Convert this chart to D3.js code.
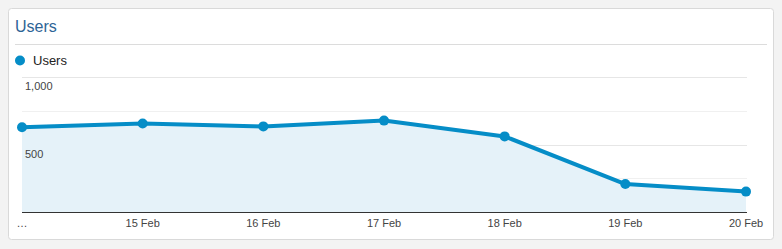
<!DOCTYPE html>
<html>
<head>
<meta charset="utf-8">
<script src="https://cdnjs.cloudflare.com/ajax/libs/d3/7.8.5/d3.min.js"></script>
<style>
  body { margin: 0; background: #f3f3f3; font-family: Arial, "Liberation Sans", sans-serif; }
  svg { display: block; }
</style>
</head>
<body>
<div id="canvas"></div>
<script>
var W = 782, H = 249;

// data
var days = ['\u2026', '15 Feb', '16 Feb', '17 Feb', '18 Feb', '19 Feb', '20 Feb'];
var users = [628, 656, 634, 677, 560, 207, 151];
var yTicks = [0, 250, 500, 750, 1000];
var yLabels = [500, 1000];

var svg = d3.select('#canvas')
    .append('svg')
    .attr('width', W)
    .attr('height', H);

// panel
svg.append('rect')
    .attr('x', 8.5).attr('y', 8.5)
    .attr('width', 765).attr('height', 231)
    .attr('rx', 3)
    .style('fill', '#fff')
    .style('stroke', '#d9d9d9');

svg.append('text')
    .attr('x', 15).attr('y', 32)
    .text('Users')
    .style('font-size', '16px')
    .style('fill', '#2d6496');

svg.append('line')
    .attr('x1', 15).attr('x2', 767)
    .attr('y1', 44.5).attr('y2', 44.5)
    .style('stroke', '#dcdcdc');

// legend
svg.append('circle')
    .attr('cx', 20).attr('cy', 60.5).attr('r', 5)
    .style('fill', '#058dc7');
svg.append('text')
    .attr('x', 33).attr('y', 65)
    .text('Users')
    .style('font-size', '13px')
    .style('fill', '#222');

// scales
var x = d3.scalePoint().domain(days).range([22, 746]);
var y = d3.scaleLinear().domain([0, 1000]).range([212, 77]);

// grid
svg.selectAll('.grid').data(yTicks.slice(1)).enter()
    .append('line')
    .attr('class', 'grid')
    .attr('x1', 22).attr('x2', 747)
    .attr('y1', function(d){ return Math.round(y(d)) + 0.5; })
    .attr('y2', function(d){ return Math.round(y(d)) + 0.5; })
    .style('stroke', function(d){ return d % 500 == 0 ? '#e6e6e6' : '#f0f0f0'; });

// area + line
var data = days.map(function(d, i){ return {day: d, v: users[i]}; });

var area = d3.area()
    .x(function(d){ return x(d.day); })
    .y0(y(0))
    .y1(function(d){ return y(d.v); });
svg.append('path')
    .datum(data)
    .attr('d', area)
    .style('fill', '#e5f2f9');

var line = d3.line()
    .x(function(d){ return x(d.day); })
    .y(function(d){ return y(d.v); });
svg.append('path')
    .datum(data)
    .attr('d', line)
    .style('fill', 'none')
    .style('stroke', '#058dc7')
    .style('stroke-width', 4)
    .style('stroke-linejoin', 'round');

svg.selectAll('.dot').data(data).enter()
    .append('circle')
    .attr('class', 'dot')
    .attr('cx', function(d){ return x(d.day); })
    .attr('cy', function(d){ return y(d.v); })
    .attr('r', 5)
    .style('fill', '#058dc7');

// axes
svg.append('line')
    .attr('x1', 22).attr('x2', 747)
    .attr('y1', 212.5).attr('y2', 212.5)
    .style('stroke', '#333');

svg.selectAll('.ylab').data(yLabels).enter()
    .append('text')
    .attr('class', 'ylab')
    .attr('x', 25)
    .attr('y', function(d){ return y(d) + 13; })
    .text(function(d){ return d3.format(',')(d); })
    .style('font-size', '11px')
    .style('fill', '#444');

svg.selectAll('.xlab').data(days).enter()
    .append('text')
    .attr('class', 'xlab')
    .attr('x', function(d){ return x(d); })
    .attr('y', 227)
    .attr('text-anchor', 'middle')
    .text(function(d){ return d; })
    .style('font-size', '11px')
    .style('fill', '#444');
</script>
</body>
</html>
